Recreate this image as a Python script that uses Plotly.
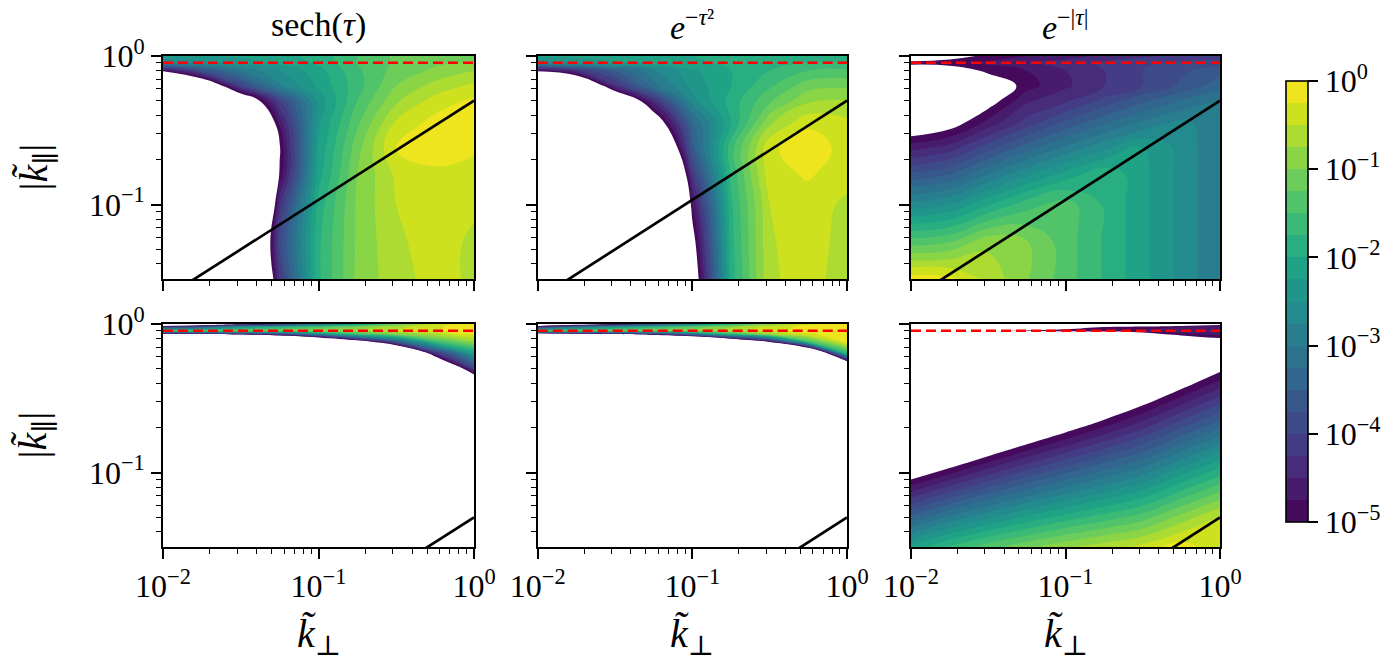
import plotly.graph_objects as go

# ---------------- data (log10 values) ----------------
LOG_KPERP = [-2.0, -1.75, -1.5, -1.25, -1.0, -0.75, -0.5, -0.25, 0.0]
LOG_KPAR_TOP = [-1.5, -1.25, -1.0, -0.8, -0.62, -0.45, -0.3, -0.2, -0.1, -0.046, 0.0]
LOG_KPAR_BOT = [-1.5, -1.3, -1.1, -0.9, -0.7, -0.55, -0.4, -0.3, -0.2, -0.12, -0.07, -0.046, -0.02, 0.0]

# rows follow LOG_KPAR_*, columns follow LOG_KPERP ; values are log10 of the plotted quantity
Z_SECH_TOP = [
    [-14, -12, -9.2, -4.2, -1.8, -0.93, -0.6, -0.4, -0.55],
    [-14, -12, -8.5, -3.9, -1.8, -0.95, -0.55, -0.38, -0.55],
    [-14, -12, -10.1, -4.3, -1.9, -0.95, -0.5, -0.36, -0.45],
    [-13, -11, -9, -4.95, -2.1, -1.0, -0.45, -0.32, -0.38],
    [-13, -11, -9, -5.05, -2.2, -1.1, -0.22, -0.1, -0.2],
    [-12, -10, -7.2, -4.7, -2.3, -1.3, -0.45, -0.15, -0.1],
    [-10, -8, -5.9, -4.0, -2.4, -1.5, -0.8, -0.4, -0.2],
    [-8, -6.1, -4.0, -2.8, -2.2, -1.6, -1.0, -0.65, -0.45],
    [-4.9, -3.8, -3.0, -2.5, -2.1, -1.55, -1.15, -0.95, -0.75],
    [-2.8, -2.6, -2.4, -2.2, -1.95, -1.5, -1.2, -1.05, -0.95],
    [-2.3, -2.25, -2.2, -2.1, -1.9, -1.5, -1.2, -1.1, -1.1],
]
Z_GAUSS_TOP = [
    [-14, -12, -11, -9, -5.6, -1.9, -0.53, -0.42, -0.6],
    [-14, -12, -11, -9, -5.27, -1.85, -0.52, -0.4, -0.58],
    [-14, -12, -11, -10, -4.8, -1.8, -0.5, -0.38, -0.55],
    [-14, -12, -10, -9.2, -4.2, -1.7, -0.35, -0.22, -0.4],
    [-13, -11, -9, -7.3, -3.6, -1.6, -0.3, -0.1, -0.35],
    [-12, -10, -8, -5.66, -3.3, -2.0, -0.8, -0.3, -0.42],
    [-10, -8, -6.25, -4.3, -2.6, -1.9, -1.3, -0.8, -0.75],
    [-8, -6.6, -4.3, -3.1, -2.4, -2.0, -1.55, -1.1, -1.05],
    [-4.9, -4.3, -3.5, -2.8, -2.3, -2.0, -1.75, -1.5, -1.45],
    [-2.7, -2.5, -2.3, -2.15, -2.05, -1.95, -1.85, -1.75, -1.75],
    [-2.2, -2.15, -2.1, -2.05, -2.0, -1.95, -1.9, -1.85, -1.9],
]
Z_EXP_TOP = [
    [-0.1, -0.18, -0.58, -0.98, -1.38, -1.78, -2.18, -2.58, -2.98],
    [-1.38, -1.26, -0.82, -0.98, -1.38, -1.78, -2.18, -2.58, -2.98],
    [-2.65, -2.49, -2.02, -1.60, -1.38, -1.78, -2.18, -2.58, -2.98],
    [-3.67, -3.48, -2.97, -2.52, -2.13, -1.78, -2.18, -2.58, -2.98],
    [-4.59, -4.37, -3.84, -3.35, -2.93, -2.56, -2.24, -2.58, -2.98],
    [-5.46, -5.21, -4.65, -4.14, -3.69, -3.29, -2.94, -2.65, -2.98],
    [-6.0, -5.7, -5.2, -4.55, -4.3, -3.93, -3.56, -3.25, -2.98],
    [-6.0, -5.8, -5.4, -4.85, -4.55, -4.25, -4.0, -3.7, -3.36],
    [-5.5, -5.35, -4.9, -4.75, -4.5, -4.25, -4.0, -3.8, -3.6],
    [-4.85, -4.8, -4.7, -4.55, -4.4, -4.2, -4.05, -3.95, -3.9],
    [-5.5, -5.2, -4.9, -4.75, -4.6, -4.45, -4.3, -4.2, -4.1],
]
Z_SECH_BOT = [
    [-15, -15, -15, -15, -15, -15, -15, -15, -15],
    [-15, -15, -15, -15, -15, -15, -15, -15, -15],
    [-15, -15, -15, -15, -15, -15, -15, -15, -15],
    [-14, -14, -14, -14, -14, -14, -14, -14, -14],
    [-12, -12, -12, -12, -12, -12, -12, -12, -12],
    [-11, -11, -11, -11, -11, -11, -11, -11, -11],
    [-10, -10, -10, -10, -10, -10, -10, -9, -6.5],
    [-10, -10, -10, -10, -10, -9, -9, -7.5, -4.0],
    [-10, -10, -10, -10, -9, -8, -8.47, -4.4, -2.3],
    [-10, -10, -10, -9.2, -8.3, -5.85, -3.6, -1.6, -0.8],
    [-5.98, -5.54, -4.9, -4.2, -2.8, -1.6, -1.0, -0.6, -0.25],
    [-1.3, -1.2, -1.1, -1.0, -0.85, -0.7, -0.5, -0.3, -0.08],
    [-4.2, -3.5, -2.4, -1.8, -1.4, -1.0, -0.6, -0.3, -0.05],
    [-6.5, -6.0, -5.3, -4.5, -3.2, -2.2, -1.2, -0.5, -0.1],
]
Z_GAUSS_BOT = [
    [-15, -15, -15, -15, -15, -15, -15, -15, -15],
    [-15, -15, -15, -15, -15, -15, -15, -15, -15],
    [-15, -15, -15, -15, -15, -15, -15, -15, -15],
    [-14, -14, -14, -14, -14, -14, -14, -14, -14],
    [-12, -12, -12, -12, -12, -12, -12, -12, -12],
    [-11, -11, -11, -11, -11, -11, -11, -11, -11],
    [-10, -10, -10, -10, -10, -10, -10, -10, -9],
    [-10, -10, -10, -10, -10, -10, -10, -9.5, -8.07],
    [-10, -10, -10, -10, -10, -10, -10, -8.4, -1.8],
    [-10, -10, -10, -10, -9.84, -7.3, -4.95, -1.5, -0.1],
    [-6.53, -6.0, -5.557, -4.6, -3.3, -1.8, -0.8, -0.3, -0.1],
    [-1.3, -1.2, -1.1, -1.0, -0.85, -0.6, -0.35, -0.15, -0.05],
    [-4.2, -3.0, -2.3, -1.7, -1.2, -0.8, -0.4, -0.15, -0.03],
    [-6.5, -5.8, -5.0, -4.0, -2.8, -1.8, -0.9, -0.3, -0.05],
]
Z_EXP_BOT = [
    [-2.2, -1.70, -1.35, -1.05, -0.80, -0.60, -0.40, -0.10, -0.45],
    [-3.44, -2.94, -2.54, -2.19, -1.89, -1.63, -1.37, -0.90, -0.46],
    [-4.67, -4.19, -3.74, -3.34, -2.98, -2.66, -2.33, -1.85, -1.39],
    [-5.91, -5.43, -4.93, -4.48, -4.07, -3.68, -3.30, -2.80, -2.32],
    [-7.14, -6.67, -6.12, -5.62, -5.16, -4.71, -4.27, -3.75, -3.25],
    [-8.07, -7.60, -7.01, -6.48, -5.98, -5.48, -4.99, -4.46, -3.94],
    [-9.0, -8.53, -7.90, -7.33, -6.80, -6.25, -5.72, -5.18, -4.64],
    [-9.6, -9.15, -8.5, -7.9, -7.3, -6.76, -6.2, -5.65, -5.11],
    [-8, -8, -8, -7.5, -7, -6.5, -6.2, -6, -5.8],
    [-7, -7, -7, -6.8, -6.6, -6.4, -6.2, -6.0, -5.3],
    [-6.5, -6.4, -6.2, -6.0, -5.8, -5.6, -5.3, -4.85, -4.7],
    [-5.5, -5.3, -5.05, -4.95, -4.9, -4.85, -4.75, -4.6, -4.45],
    [-6.5, -6.2, -5.8, -5.4, -5.15, -5.0, -4.85, -4.75, -4.6],
    [-8, -8, -8, -7.5, -7, -6.5, -6.0, -5.5, -5.2],
]

PANEL_TITLES = ["sech(<i>τ</i>)", "<i>e</i><sup>−<i>τ</i>²</sup>", "<i>e</i><sup>−|<i>τ</i>|</sup>"]
LINE_KPERP = [0.01, 1.0]
LINE_KPAR_TOP = [0.0232, 0.5]
LINE_KPAR_BOT = [0.00232, 0.05]
RESONANCE_KPERP = [0.01, 1.0]
RESONANCE_KPAR = [0.9, 0.9]

X_TICKVALS = [0.01, 0.1, 1.0]
X_TICKTEXT = ["10<sup>−2</sup>", "10<sup>−1</sup>", "10<sup>0</sup>"]
Y_TICKVALS = [0.1, 1.0]
Y_TICKTEXT = ["10<sup>−1</sup>", "10<sup>0</sup>"]
CB_TICKVALS = [-5, -4, -3, -2, -1, 0]
CB_TICKTEXT = ["10<sup>−5</sup>", "10<sup>−4</sup>", "10<sup>−3</sup>", "10<sup>−2</sup>", "10<sup>−1</sup>", "10<sup>0</sup>"]
X_MINOR = [0.02, 0.03, 0.04, 0.05, 0.06, 0.07, 0.08, 0.09, 0.2, 0.3, 0.4, 0.5, 0.6, 0.7, 0.8, 0.9]
Y_MINOR = [0.04, 0.05, 0.06, 0.07, 0.08, 0.09, 0.2, 0.3, 0.4, 0.5, 0.6, 0.7, 0.8, 0.9]

# ---------------- styling ----------------
W, H = 1400, 668
FONT = "Liberation Serif, DejaVu Serif, serif"
TICK_SIZE = 32
VIR21 = ["#440154", "#471365", "#482475", "#463480", "#414487", "#3b528b", "#355f8d",
         "#2f6c8e", "#2a788e", "#25848e", "#21918c", "#1e9c89", "#22a884", "#2fb47c",
         "#44bf70", "#5ec962", "#7ad151", "#9bd93c", "#bddf26", "#dfe318", "#fde725"]


def mix(a, b):
    ca = [int(a[i:i + 2], 16) for i in (1, 3, 5)]
    cb = [int(b[i:i + 2], 16) for i in (1, 3, 5)]
    return "rgb({},{},{})".format(*[round((u + v) / 2) for u, v in zip(ca, cb)])


BANDS = [mix(VIR21[k], VIR21[k + 1]) for k in range(20)]
FILL_SCALE = [[0.0, "white"]] + [[(k + 1) / 20, BANDS[k]] for k in range(20)]
CB_SCALE = []
for k in range(20):
    CB_SCALE.append([k / 20, BANDS[k]])
    CB_SCALE.append([(k + 1) / 20, BANDS[k]])

X_DOM = [(163 / W, 474 / W), (537.7 / W, 847 / W), (911 / W, 1220 / W)]
Y_DOM = [(1 - 279 / H, 1 - 56 / H), (1 - 547 / H, 1 - 324 / H)]

panels = [
    (Z_SECH_TOP, LOG_KPAR_TOP, LINE_KPAR_TOP),
    (Z_GAUSS_TOP, LOG_KPAR_TOP, LINE_KPAR_TOP),
    (Z_EXP_TOP, LOG_KPAR_TOP, LINE_KPAR_TOP),
    (Z_SECH_BOT, LOG_KPAR_BOT, LINE_KPAR_BOT),
    (Z_GAUSS_BOT, LOG_KPAR_BOT, LINE_KPAR_BOT),
    (Z_EXP_BOT, LOG_KPAR_BOT, LINE_KPAR_BOT),
]

fig = go.Figure()
layout = dict(width=W, height=H, autosize=False,
              margin=dict(l=0, r=0, t=0, b=0, pad=0, autoexpand=False),
              paper_bgcolor="white", plot_bgcolor="white", showlegend=False,
              font=dict(family=FONT, color="black", size=TICK_SIZE))

kx = [10 ** v for v in LOG_KPERP]
for i, (z, ly, line_kpar) in enumerate(panels):
    r, c = divmod(i, 3)
    xa = "x" if i == 0 else f"x{i + 1}"
    ya = "y" if i == 0 else f"y{i + 1}"
    ky = [10 ** v for v in ly]
    fig.add_trace(go.Contour(
        x=kx, y=ky, z=z, xaxis=xa, yaxis=ya,
        autocontour=False,
        contours=dict(start=-5, end=-0.25, size=0.25, coloring="fill", showlines=False),
        colorscale=FILL_SCALE, showscale=False,
        line=dict(width=0, smoothing=1.3), hoverinfo="skip"))
    fig.add_trace(go.Scatter(x=LINE_KPERP, y=line_kpar, xaxis=xa, yaxis=ya, mode="lines",
                             line=dict(color="black", width=2.7), hoverinfo="skip"))
    fig.add_trace(go.Scatter(x=RESONANCE_KPERP, y=RESONANCE_KPAR, xaxis=xa, yaxis=ya, mode="lines",
                             line=dict(color="red", width=2.4, dash="10px,5px"), hoverinfo="skip"))
    common = dict(showline=True, mirror=True, linecolor="black", linewidth=1.6,
                  ticks="outside", ticklen=10, tickwidth=1.6, tickcolor="black",
                  showgrid=False, zeroline=False, type="log",
                  tickfont=dict(family=FONT, size=TICK_SIZE, color="black"))
    layout["xaxis" if i == 0 else f"xaxis{i + 1}"] = dict(
        common, domain=X_DOM[c], anchor=ya, range=[-2, 0],
        tickmode="array", tickvals=X_TICKVALS, ticktext=X_TICKTEXT, showticklabels=(r == 1),
        minor=dict(tickmode="array", tickvals=X_MINOR, ticks="outside", ticklen=5,
                   tickwidth=1.2, tickcolor="black"))
    layout["yaxis" if i == 0 else f"yaxis{i + 1}"] = dict(
        common, domain=Y_DOM[r], anchor=xa, range=[-1.5, 0],
        tickmode="array", tickvals=Y_TICKVALS, ticktext=Y_TICKTEXT, showticklabels=(c == 0),
        minor=dict(tickmode="array", tickvals=Y_MINOR, ticks="outside", ticklen=5,
                   tickwidth=1.2, tickcolor="black"))

# colorbar carrier
fig.add_trace(go.Scatter(
    x=[0.5], y=[0.5], xaxis="x", yaxis="y", mode="markers", hoverinfo="skip",
    marker=dict(color=[-2.5], colorscale=CB_SCALE, cmin=-5, cmax=0, opacity=0, size=1,
                showscale=True,
                colorbar=dict(x=1286 / W, xanchor="left", y=1 - 301.5 / H, yanchor="middle",
                              len=441 / H, lenmode="fraction", thickness=22, thicknessmode="pixels",
                              xpad=0, ypad=0, outlinewidth=1.6, outlinecolor="black", borderwidth=0,
                              ticks="outside", ticklen=10, tickwidth=1.6, tickcolor="black",
                              tickmode="array", tickvals=CB_TICKVALS, ticktext=CB_TICKTEXT,
                              tickfont=dict(family=FONT, size=TICK_SIZE, color="black")))))

ann = []
for c in range(3):
    xc = (X_DOM[c][0] + X_DOM[c][1]) / 2
    ann.append(dict(text=PANEL_TITLES[c], x=xc, y=1 - 25 / H, xref="paper", yref="paper",
                    xanchor="center", yanchor="middle", showarrow=False,
                    font=dict(family=FONT, size=34, color="black")))
    ann.append(dict(text="<i>k̃</i><sub>⊥</sub>", x=xc, y=1 - 636 / H, xref="paper", yref="paper",
                    xanchor="center", yanchor="middle", showarrow=False,
                    font=dict(family=FONT, size=40, color="black")))
for r in range(2):
    yc = (Y_DOM[r][0] + Y_DOM[r][1]) / 2
    ann.append(dict(text="|<i>k̃</i><sub>∥</sub>|", x=35 / W, y=yc, xref="paper", yref="paper",
                    xanchor="center", yanchor="middle", showarrow=False, textangle=-90,
                    font=dict(family=FONT, size=40, color="black")))
layout["annotations"] = ann

fig.update_layout(**layout)
fig.write_html("out.html")
